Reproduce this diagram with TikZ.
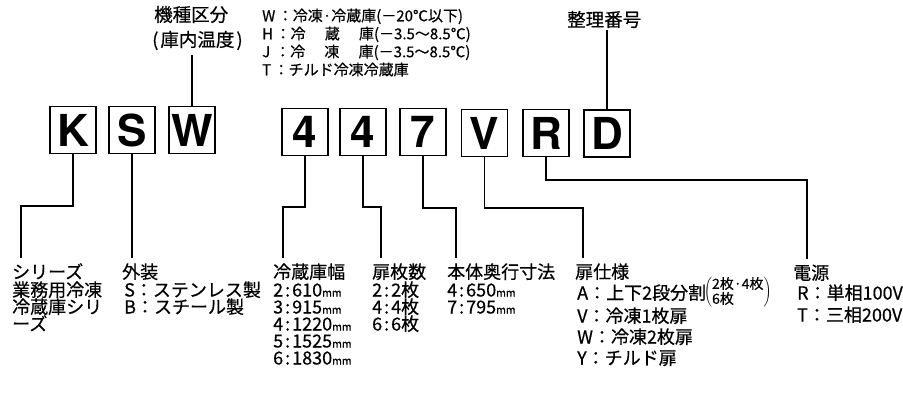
\documentclass[tikz,border=0pt]{standalone}
\usepackage{fontspec}
\usepackage{calc}
\setmainfont{Noto Sans CJK JP}[BoldFont=Noto Sans CJK JP, BoldFeatures={FakeBold=0.5}]
\newfontfamily\boxfont{TeX Gyre Heros}
\tikzset{
  lbl/.style={anchor=west, inner sep=0pt, font=\bfseries\fontsize{18}{18}\selectfont, text height=15.5pt, text depth=2.5pt},
  toplbl/.style={anchor=west, inner sep=0pt, font=\bfseries\fontsize{18.5}{19}\selectfont, text height=16pt, text depth=3pt},
  sm/.style={anchor=west, inner sep=0pt, font=\bfseries\fontsize{15}{16}\selectfont, text height=12.5pt, text depth=2pt},
  codebox/.style={draw, line width=1.4pt, minimum width=46pt, minimum height=47pt, inner sep=0pt, font=\boxfont\bfseries\fontsize{44}{44}\selectfont},
  conn/.style={line width=1.2pt},
}
\newcommand{\mmu}{{\fontsize{10.5}{11}\selectfont mm}}
\newcommand{\cl}{\kern2pt:\kern2pt}
\begin{document}
\begin{tikzpicture}[x=1pt,y=-1pt]
\useasboundingbox (0,0) rectangle (903,394);
% code boxes
\node[codebox] (K) at (73,130) {K};
\node[codebox] (S) at (132,130) {S};
\node[codebox] (W) at (192,130) {W};
\node[codebox] (N1) at (305,132) {4};
\node[codebox] (N2) at (363,132) {4};
\node[codebox] (N3) at (423,132) {7};
\node[codebox] (V) at (484.5,133) {V};
\node[codebox] (R) at (546,133) {R};
\node[codebox] (D) at (607,133.5) {D};
% top labels
\node[toplbl] (kind1) at (154,15) {機種区分};
\node[toplbl] (kind2) at (152,40) {(\kern2pt 庫内温度\kern2pt)};
\node[toplbl] (seq) at (567,20) {整理番号};
\node[sm] (tW) at (262,16) {W\,：冷凍·冷蔵庫(－20℃以下)};
\node[sm] (tH) at (262,34) {H\,：\makebox[\widthof{冷凍·冷蔵庫}][s]{冷\hfill 蔵\hfill 庫}(－3.5〜8.5℃)};
\node[sm] (tJ) at (262,52) {J\,\,：\makebox[\widthof{冷凍·冷蔵庫}][s]{冷\hfill 凍\hfill 庫}(－3.5〜8.5℃)};
\node[sm] (tT) at (262,70) {T\,：チルド冷凍冷蔵庫};
% bottom labels
\node[lbl] (series) at (12,272) {シリーズ};
\node[lbl] at (12,290) {業務用冷凍};
\node[lbl] at (12,307) {冷蔵庫シリ};
\node[lbl] at (12,324) {ーズ};
\node[lbl] (ext) at (122,272) {外装};
\node[lbl] at (124,290) {S：ステンレス製};
\node[lbl] at (124,307) {B：スチール製};
\node[lbl] (width) at (273,272) {冷蔵庫幅};
\node[lbl] at (273,290) {2\cl 610\mmu};
\node[lbl] at (273,307) {3\cl 915\mmu};
\node[lbl] at (273,324) {4\cl 1220\mmu};
\node[lbl] at (273,341) {5\cl 1525\mmu};
\node[lbl] at (273,358) {6\cl 1830\mmu};
\node[lbl] (doors) at (372,272) {扉枚数};
\node[lbl] at (372,290) {2\cl 2枚};
\node[lbl] at (372,307) {4\cl 4枚};
\node[lbl] at (372,324) {6\cl 6枚};
\node[lbl] (depth) at (447,272) {本体奥行寸法};
\node[lbl] at (447,290) {4\cl 650\mmu};
\node[lbl] at (447,307) {7\cl 795\mmu};
\node[lbl] (spec) at (575,272) {扉仕様};
\node[lbl] (specA) at (577,293) {A：上下2段分割};
\node[anchor=west, inner sep=0pt] (note) at (704,292) {$\left(\vcenter{\hbox{\bfseries\fontsize{14}{14}\selectfont\renewcommand{\arraystretch}{0.75}\begin{tabular}{@{}l@{}}2枚·4枚\\6枚\end{tabular}}}\right)$};
\node[lbl] at (577,316) {V：冷凍1枚扉};
\node[lbl] at (577,337) {W：冷凍2枚扉};
\node[lbl] at (577,358) {Y：チルド扉};
\node[lbl] (power) at (793,273) {電源};
\node[lbl] at (797,293) {R：単相100V};
\node[lbl] at (797,315) {T：三相200V};
% connectors
\coordinate (cW) at (192,55);
\draw[conn] (W.north) -- (cW);
\draw[conn] (D.north) -- (D.north |- seq.south);
\coordinate (tK) at (21,206);
\draw[conn, shorten >=5pt] (K.south) |- (tK) -- (tK |- series.north);
\draw[conn, shorten >=5pt] (S.south) -- (S.south |- ext.north);
\coordinate (t1) at (283,207);
\draw[conn, shorten >=5pt] (N1.south) |- (t1) -- (t1 |- width.north);
\coordinate (t2) at (381,207);
\draw[conn, shorten >=5pt] (N2.south) |- (t2) -- (t2 |- doors.north);
\coordinate (t3) at (456,208);
\draw[conn, shorten >=5pt] (N3.south) |- (t3) -- (t3 |- depth.north);
\coordinate (tV) at (583,208);
\draw[conn, shorten >=5pt] (V.south) |- (tV) -- (tV |- spec.north);
\coordinate (tR) at (807,180);
\draw[conn, shorten >=5pt] (R.south) |- (tR) -- (tR |- power.north);
\end{tikzpicture}
\end{document}
